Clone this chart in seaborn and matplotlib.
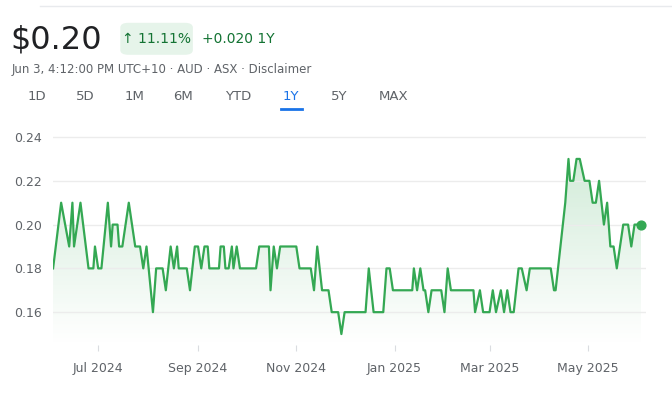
import numpy as np
import pandas as pd
import matplotlib
matplotlib.use("Agg")
import matplotlib.pyplot as plt
import seaborn as sns
from matplotlib.patches import FancyBboxPatch

# ---- data (days since 2024-06-03, price AUD) ----
start = pd.Timestamp("2024-06-03")
days = [0, 5, 10, 12, 13, 17, 22, 25, 26, 28, 30, 34, 36, 37, 40, 41, 43, 47, 51, 54, 56, 58,
        62, 64, 68, 70, 73, 75, 77, 78, 83, 85, 88, 90, 92, 94, 96, 97, 103, 104, 106, 107, 109,
        111, 112, 114, 116, 126, 128, 134, 135, 137, 139, 141, 151, 153, 160, 162, 164, 167, 171,
        173, 177, 179, 181, 194, 196, 199, 205, 207, 209, 211, 223, 224, 226, 228, 230, 231, 233,
        235, 241, 243, 245, 247, 261, 262, 265, 267, 271, 273, 275, 278, 280, 282, 284, 286, 289,
        291, 294, 296, 309, 311, 312, 315, 318, 320, 321, 323, 325, 327, 330, 333, 335, 337, 339,
        342, 344, 346, 348, 350, 354, 357, 359, 361, 365]
prices = [0.18, 0.21, 0.19, 0.21, 0.19, 0.21, 0.18, 0.18, 0.19, 0.18, 0.18, 0.21, 0.19, 0.20,
          0.20, 0.19, 0.19, 0.21, 0.19, 0.19, 0.18, 0.19, 0.16, 0.18, 0.18, 0.17, 0.19, 0.18,
          0.19, 0.18, 0.18, 0.17, 0.19, 0.19, 0.18, 0.19, 0.19, 0.18, 0.18, 0.19, 0.19, 0.18,
          0.18, 0.19, 0.18, 0.19, 0.18, 0.18, 0.19, 0.19, 0.17, 0.19, 0.18, 0.19, 0.19, 0.18,
          0.18, 0.17, 0.19, 0.17, 0.17, 0.16, 0.16, 0.15, 0.16, 0.16, 0.18, 0.16, 0.16, 0.18,
          0.18, 0.17, 0.17, 0.18, 0.17, 0.18, 0.17, 0.17, 0.16, 0.17, 0.17, 0.16, 0.18, 0.17,
          0.17, 0.16, 0.17, 0.16, 0.16, 0.17, 0.16, 0.17, 0.16, 0.17, 0.16, 0.16, 0.18, 0.18,
          0.17, 0.18, 0.18, 0.17, 0.17, 0.19, 0.21, 0.23, 0.22, 0.22, 0.23, 0.23, 0.22, 0.22,
          0.21, 0.21, 0.22, 0.20, 0.21, 0.19, 0.19, 0.18, 0.20, 0.20, 0.19, 0.20, 0.20]
yticks = [0.16, 0.18, 0.20, 0.22, 0.24]
xtick_dates = ["2024-07-01", "2024-09-01", "2024-11-01", "2025-01-01", "2025-03-01", "2025-05-01"]
xtick_labels = ["Jul 2024", "Sep 2024", "Nov 2024", "Jan 2025", "Mar 2025", "May 2025"]

df = pd.DataFrame({"date": start + pd.to_timedelta(days, unit="D"), "price": prices})
green = "#34a853"

fig = plt.figure(figsize=(6.72, 4), dpi=100)
fig.set_facecolor("white")
ax = fig.add_axes([0.079, 0.1375, 0.882, 0.55])
sns.lineplot(data=df, x="date", y="price", ax=ax, color=green, lw=1.6)
ymin, ymax = 0.145, 0.2455
ax.set_ylim(ymin, ymax)
ax.set_xlim(df["date"].iloc[0], df["date"].iloc[-1] + pd.Timedelta(days=3))

# gradient fill under line
x0, x1 = matplotlib.dates.date2num(df["date"].iloc[0]), matplotlib.dates.date2num(df["date"].iloc[-1])
grad = np.linspace(0.22, 0.0, 100).reshape(-1, 1)
cmap = matplotlib.colors.LinearSegmentedColormap.from_list("g", ["#ffffff", green])
im = ax.imshow(grad, aspect="auto", cmap=cmap, vmin=0, vmax=1, extent=[x0, x1, ymin, 0.23],
               origin="upper", zorder=0)
poly = ax.fill_between(df["date"], df["price"], ymin, color="none")
im.set_clip_path(poly.get_paths()[0], transform=ax.transData)
ax.scatter([df["date"].iloc[-1]], [prices[-1]], s=40, color=green, zorder=5)

ax.set_yticks(yticks)
ax.set_yticklabels([f"{v:.2f}" for v in yticks])
ax.set_xticks(pd.to_datetime(xtick_dates))
ax.set_xticklabels(xtick_labels)
ax.tick_params(axis="y", length=0, labelsize=9, colors="#5f6368", pad=8)
ax.tick_params(axis="x", length=4, labelsize=9, colors="#5f6368", pad=8, color="#dadce0")
ax.grid(axis="y", color="#ececec", lw=1)
ax.grid(axis="x", visible=False)
ax.set_axisbelow(True)
for s in ["top", "right", "left", "bottom"]:
    ax.spines[s].set_visible(False)
ax.set_xlabel("")
ax.set_ylabel("")

# header
fig.add_artist(plt.Line2D([0.06, 1.0], [0.985, 0.985], color="#e8eaed", lw=1))
fig.text(0.016, 0.9, "$0.20", fontsize=23, color="#202124", va="center")
box = FancyBboxPatch((0.179, 0.863), 0.108, 0.08, boxstyle="round,pad=0,rounding_size=0.012",
                     transform=fig.transFigure, facecolor="#e6f4ea", edgecolor="none")
fig.add_artist(box)
fig.text(0.233, 0.902, "↑ 11.11%", fontsize=10, color="#137333", va="center", ha="center")
fig.text(0.3, 0.902, "+0.020 1Y", fontsize=10, color="#137333", va="center")
fig.text(0.018, 0.825, "Jun 3, 4:12:00 PM UTC+10 · AUD · ASX · Disclaimer", fontsize=8.5,
         color="#5f6368", va="center")
for label, xp in zip(["1D", "5D", "1M", "6M", "YTD", "1Y", "5Y", "MAX"],
                     [0.055, 0.127, 0.2, 0.273, 0.355, 0.433, 0.505, 0.585]):
    fig.text(xp, 0.758, label, fontsize=9.5, ha="center", va="center",
             color="#1a73e8" if label == "1Y" else "#5f6368")
fig.add_artist(plt.Line2D([0.418, 0.449], [0.727, 0.727], color="#1a73e8", lw=2))

fig.savefig("out.png", dpi=100, facecolor="white")
